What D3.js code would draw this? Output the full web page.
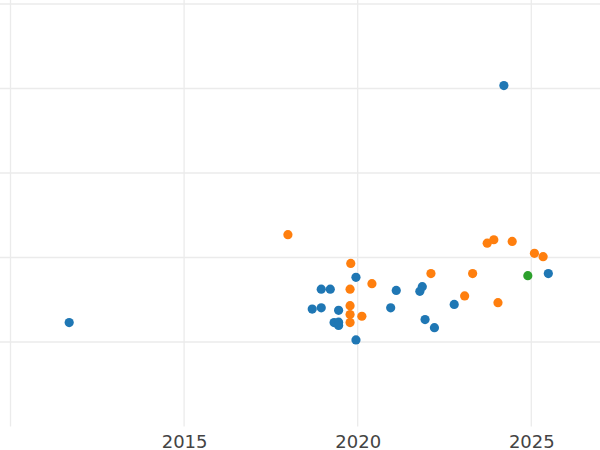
<!DOCTYPE html>
<html>
<head>
<meta charset="utf-8">
<script src="https://cdn.jsdelivr.net/npm/d3@7"></script>
<style>
  html, body { margin: 0; padding: 0; background: #fff; }
  svg { display: block; }
</style>
</head>
<body>
<svg id="chart" width="600" height="450"></svg>
<script>
// Data (year, value) per series
const blueYears  = [2011.69, 2024.21, 2025.49, 2018.95, 2019.21, 2019.95, 2021.11, 2021.86, 2021.79, 2018.69, 2018.95, 2019.45, 2020.95, 2019.32, 2019.45, 2019.45, 2021.94, 2022.21, 2019.95, 2022.78];
const blueValues = [24.6, 80.7, 36.2, 32.5, 32.5, 35.3, 32.2, 33.1, 32.0, 27.8, 28.1, 27.5, 28.1, 24.6, 24.7, 23.9, 25.3, 23.4, 20.5, 28.9];
const orangeYears  = [2017.99, 2019.80, 2020.41, 2022.11, 2019.78, 2019.78, 2019.78, 2020.12, 2019.78, 2023.73, 2023.92, 2024.45, 2025.09, 2025.34, 2023.31, 2023.08, 2024.04];
const orangeValues = [45.4, 38.6, 33.8, 36.2, 32.5, 28.6, 26.5, 26.1, 24.6, 43.4, 44.2, 43.8, 41.0, 40.2, 36.2, 30.9, 29.3];
const greenYears  = [2024.90];
const greenValues = [35.7];
const xTicks = [2010, 2015, 2020, 2025];
const xTickLabels = ["", "2015", "2020", "2025"];
const yTicks = [20, 40, 60, 80, 100];

const series = [
  { years: blueYears, values: blueValues, color: "#1f77b4" },
  { years: orangeYears, values: orangeValues, color: "#ff7f0e" },
  { years: greenYears, values: greenValues, color: "#2ca02c" }
];

const svg = d3.select("#chart");
const W = 600, H = 450;
const plotBottom = 426.5;

const x = d3.scaleLinear().domain([2010, 2025]).range([10.5, 531.3]);
const y = d3.scaleLinear().domain([0, 100]).range([plotBottom, 4]);

const grid = svg.append("g");
grid.selectAll("line.v").data(xTicks).enter().append("line")
  .attr("x1", d => x(d)).attr("x2", d => x(d))
  .attr("y1", 0).attr("y2", plotBottom)
  .attr("stroke", "#ebebeb").attr("stroke-width", 1.3);
grid.selectAll("line.h").data(yTicks).enter().append("line")
  .attr("x1", 0).attr("x2", W)
  .attr("y1", d => y(d)).attr("y2", d => y(d))
  .attr("stroke", "#ebebeb").attr("stroke-width", 1.3);

const xAxis = d3.axisBottom(x).tickValues(xTicks)
  .tickFormat((d, i) => xTickLabels[i]).tickSize(0).tickPadding(0);
const ax = svg.append("g").attr("transform", `translate(0, ${plotBottom})`).call(xAxis);
ax.select(".domain").remove();
ax.selectAll("text")
  .attr("y", 21)
  .attr("dy", 0)
  .attr("fill", "#444")
  .style("font-family", "'DejaVu Sans', sans-serif")
  .style("font-size", "18px")
  .attr("dominant-baseline", "auto");

const pts = svg.append("g");
series.forEach(s => {
  pts.selectAll(null).data(s.years.map((yr, i) => [yr, s.values[i]])).enter()
    .append("circle")
    .attr("cx", d => x(d[0])).attr("cy", d => y(d[1]))
    .attr("r", 4.6)
    .attr("fill", s.color);
});
</script>
</body>
</html>
